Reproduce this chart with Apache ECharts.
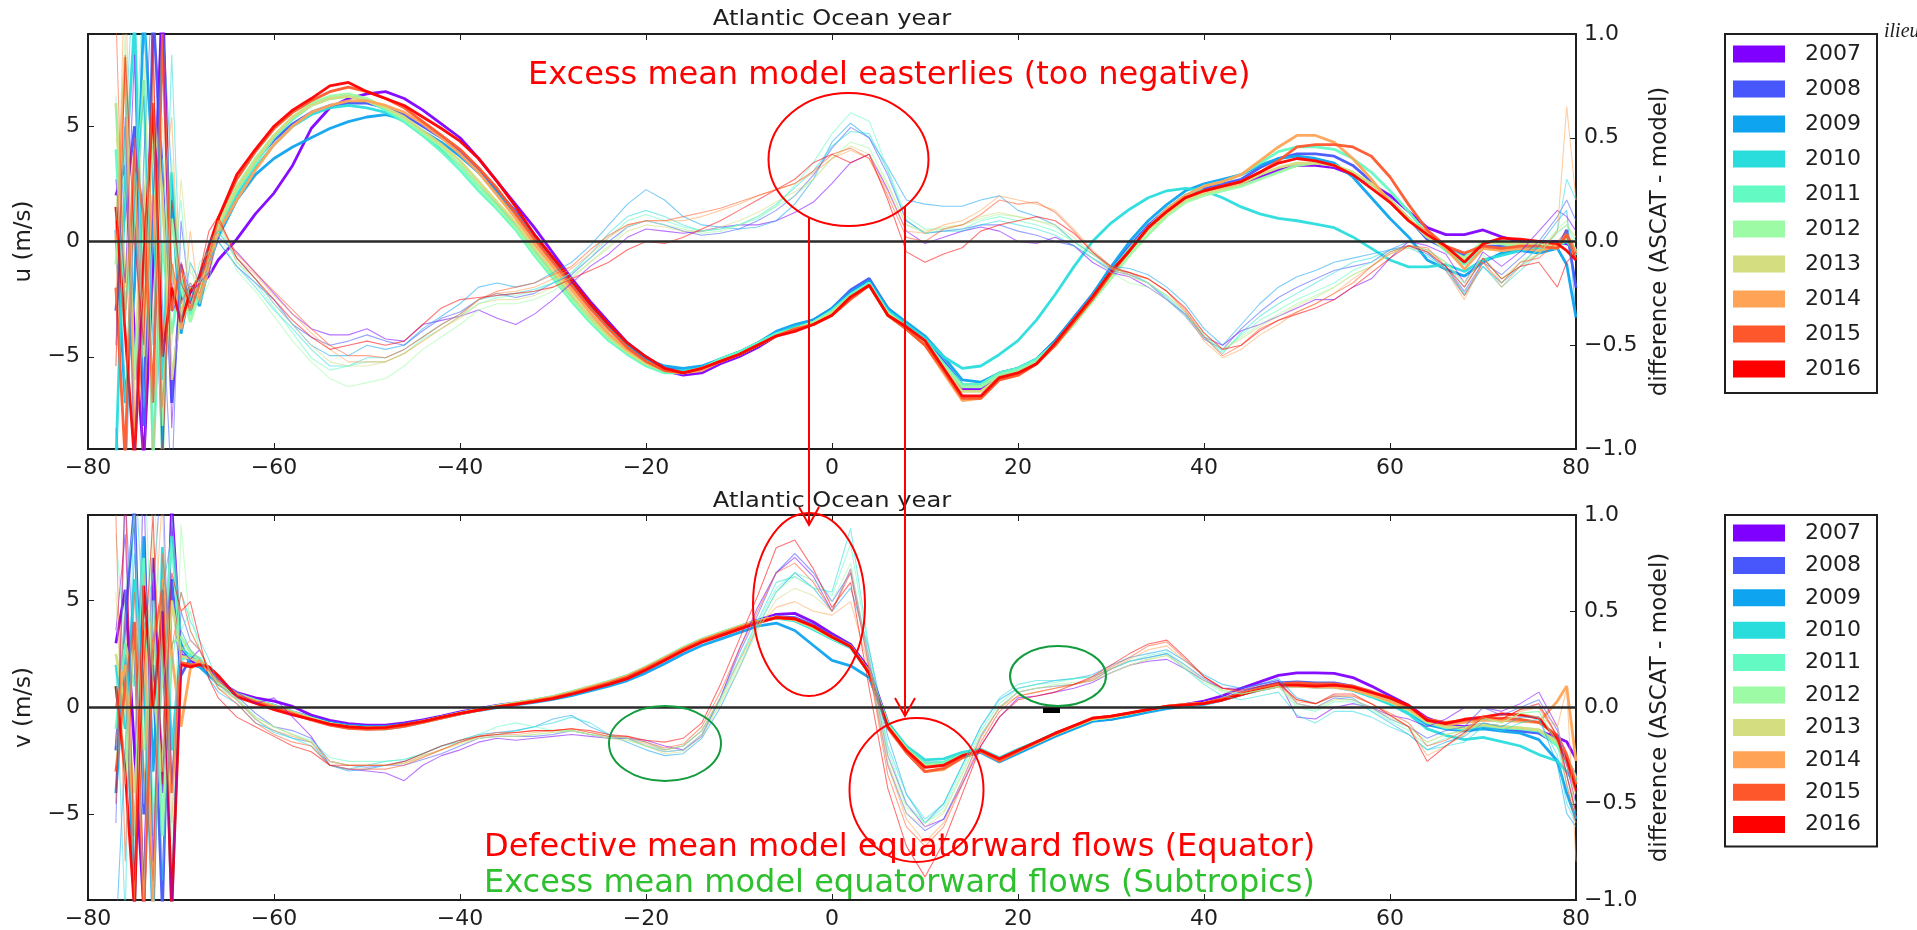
<!DOCTYPE html>
<html>
<head>
<meta charset="utf-8">
<script src="https://cdn.jsdelivr.net/npm/echarts@6/dist/echarts.min.js"></script>
<style>
html, body { margin: 0; padding: 0; background: #ffffff; }
#chart { width: 1917px; height: 930px; }
</style>
</head>
<body>
<div id="chart"></div>
<script>
// Atlantic Ocean yearly zonal (u) and meridional (v) wind profiles versus latitude,
// thick lines: mean wind (left axis, m/s); thin lines: ASCAT - model difference (right axis).

const years = ['2007', '2008', '2009', '2010', '2011', '2012', '2013', '2014', '2015', '2016'];
const yearColors = ['#8000ff', '#4757fb', '#0ea4f0', '#2adddd', '#63fbc3', '#9cfba4', '#d4dd80', '#ffa457', '#ff572c', '#ff0000'];

const latitudes = [
  -77, -76, -75, -74, -73, -72, -71, -70, -69, -68, -67, -66,
  -64, -62, -60, -58, -56, -54, -52, -50, -48, -46, -44, -42, -40, -38, -36, -34, -32, -30, -28, -26, -24, -22, -20, -18, -16, -14, -12, -10, -8, -6, -4, -2,
  0, 2, 4, 6, 8, 10, 12, 14, 16, 18, 20, 22, 24, 26, 28, 30, 32, 34, 36, 38, 40, 42, 44, 46, 48, 50, 52, 54, 56, 58, 60, 62,
  64, 66, 68, 70, 72, 74, 76, 78, 79, 80
];

const latTicks = [-80, -60, -40, -20, 0, 20, 40, 60, 80];
const windTicks = [-5, 0, 5];
const diffTicks = [-1, -0.5, 0, 0.5, 1];

// ---- zonal wind u (m/s) ----
const uWind2007 = [2.0, 3.3, -4.0, -9.5, -1.0, 11.0, -3.0, -2.5, -2.0, -1.9, -1.5, -0.8,
  0.1, 1.2, 2.1, 3.3, 4.9, 5.8, 6.2, 6.4, 6.5, 6.2, 5.7, 5.1, 4.5, 3.6, 2.6, 1.6, 0.6, -0.5, -1.6, -2.6, -3.5, -4.4, -5.1, -5.6, -5.8, -5.7, -5.3, -5.0, -4.6, -4.1, -3.8, -3.5,
  -3.0, -2.2, -1.7, -2.9, -3.6, -4.2, -5.3, -6.4, -6.4, -5.8, -5.6, -5.2, -4.4, -3.4, -2.4, -1.3, -0.3, 0.6, 1.3, 1.9, 2.2, 2.35, 2.5, 2.8, 3.1, 3.3, 3.3, 3.2, 2.9, 2.5, 2.0, 1.3,
  0.6, 0.3, 0.3, 0.5, 0.2, 0.0, 0.0, 0.0, -0.1, -0.3];
const uWind2008 = [-3.0, 1.5, 5.0, -8.0, 10.0, 3.0, -7.0, -2.0, -3.0, -2.5, -1.2, 0.5,
  2.3, 3.5, 4.4, 5.1, 5.6, 5.9, 6.0, 6.0, 5.8, 5.5, 5.0, 4.5, 3.9, 3.1, 2.2, 1.3, 0.3, -0.7, -1.7, -2.7, -3.6, -4.4, -5.0, -5.5, -5.6, -5.5, -5.1, -4.8, -4.4, -4.0, -3.7, -3.4,
  -2.9, -2.1, -1.6, -2.9, -3.6, -4.2, -5.2, -6.2, -6.2, -5.7, -5.5, -5.1, -4.3, -3.3, -2.3, -1.2, -0.2, 0.7, 1.4, 2.0, 2.3, 2.5, 2.7, 3.2, 3.6, 3.8, 3.8, 3.7, 3.3, 2.6, 1.8, 1.0,
  0.1, -0.3, -0.6, -0.2, -0.2, -0.3, -0.2, -0.3, 0.5, -2.0];
const uWind2009 = [0.5, -7.0, -2.0, 10.0, 3.0, -9.0, 2.0, -4.0, -2.0, -2.8, -1.0, 0.2,
  1.8, 2.9, 3.6, 4.1, 4.5, 4.9, 5.2, 5.4, 5.5, 5.3, 4.8, 4.3, 3.7, 3.0, 2.1, 1.2, 0.2, -0.8, -1.8, -2.8, -3.7, -4.5, -5.1, -5.4, -5.5, -5.4, -5.1, -4.8, -4.4, -3.9, -3.6, -3.4,
  -2.9, -2.2, -1.7, -2.9, -3.5, -4.1, -5.0, -6.0, -6.1, -5.7, -5.5, -5.1, -4.3, -3.3, -2.3, -1.1, 0.0, 0.9, 1.6, 2.2, 2.5, 2.7, 2.9, 3.3, 3.6, 3.7, 3.6, 3.4, 2.8, 1.9, 1.0, 0.2,
  -0.8, -1.2, -1.5, -0.9, -0.5, -0.4, -0.5, -0.3, -1.0, -3.3];
const uWind2010 = [-9.5, 2.7, 9.5, -4.0, 1.0, -6.0, 3.0, -3.5, -2.5, -2.0, -1.0, 0.4,
  2.0, 3.2, 4.2, 5.0, 5.5, 5.8, 5.9, 5.8, 5.6, 5.2, 4.6, 4.0, 3.3, 2.4, 1.6, 0.7, -0.4, -1.4, -2.4, -3.3, -4.1, -4.8, -5.3, -5.6, -5.6, -5.5, -5.1, -4.8, -4.4, -4.0, -3.7, -3.5,
  -3.0, -2.3, -1.8, -3.0, -3.6, -4.2, -5.0, -5.5, -5.4, -4.9, -4.3, -3.4, -2.3, -1.1, 0.0, 0.8, 1.4, 1.9, 2.2, 2.3, 2.2, 1.9, 1.5, 1.2, 1.0, 0.9, 0.75, 0.6, 0.2, -0.3, -0.8, -1.1,
  -1.1, -1.0, -1.3, -0.8, -0.6, -0.4, -0.3, -0.2, 0.0, -0.5];
const uWind2011 = [4.0, -3.0, 1.0, 7.0, -9.5, 0.0, -4.0, -1.5, -3.2, -2.0, -1.0, 0.6,
  2.2, 3.4, 4.5, 5.3, 5.9, 6.2, 6.3, 6.1, 5.7, 5.2, 4.6, 3.9, 3.1, 2.2, 1.4, 0.5, -0.6, -1.6, -2.6, -3.5, -4.3, -4.9, -5.4, -5.7, -5.7, -5.5, -5.1, -4.8, -4.4, -4.0, -3.8, -3.5,
  -3.0, -2.3, -1.8, -3.1, -3.7, -4.3, -5.3, -6.2, -6.2, -5.7, -5.5, -5.1, -4.4, -3.4, -2.4, -1.3, -0.3, 0.6, 1.4, 2.0, 2.4, 2.6, 2.9, 3.4, 3.9, 4.1, 4.1, 4.0, 3.6, 3.0, 2.2, 1.3,
  0.3, -0.4, -1.0, -0.3, -0.3, -0.2, -0.2, -0.3, 0.2, -0.6];
const uWind2012 = [-1.0, 5.0, -6.0, 2.0, 4.0, -8.0, 1.0, -2.0, -3.5, -2.2, -0.8, 0.8,
  2.4, 3.6, 4.6, 5.4, 6.0, 6.3, 6.4, 6.2, 5.8, 5.3, 4.7, 4.1, 3.3, 2.4, 1.5, 0.6, -0.5, -1.5, -2.5, -3.4, -4.2, -4.8, -5.3, -5.6, -5.7, -5.5, -5.2, -4.9, -4.5, -4.1, -3.8, -3.5,
  -3.1, -2.4, -1.9, -3.1, -3.7, -4.3, -5.4, -6.3, -6.3, -5.8, -5.6, -5.2, -4.5, -3.6, -2.6, -1.6, -0.6, 0.3, 1.1, 1.7, 2.0, 2.2, 2.4, 2.7, 3.0, 3.3, 3.4, 3.3, 3.0, 2.5, 1.8, 1.0,
  0.2, -0.3, -0.7, 0.0, -0.1, -0.2, -0.2, -0.3, 0.3, -0.4];
const uWind2013 = [6.0, -2.0, 3.0, -5.0, 6.0, 2.0, -6.0, -3.0, -2.0, -2.4, -1.0, 0.7,
  2.3, 3.5, 4.6, 5.4, 5.9, 6.2, 6.3, 6.1, 5.8, 5.4, 4.8, 4.2, 3.5, 2.6, 1.7, 0.8, -0.3, -1.3, -2.3, -3.3, -4.1, -4.8, -5.3, -5.6, -5.7, -5.5, -5.2, -4.9, -4.5, -4.1, -3.8, -3.6,
  -3.1, -2.4, -1.9, -3.2, -3.8, -4.4, -5.5, -6.5, -6.5, -5.9, -5.7, -5.3, -4.5, -3.5, -2.5, -1.4, -0.4, 0.5, 1.2, 1.8, 2.1, 2.3, 2.5, 2.9, 3.2, 3.4, 3.4, 3.3, 3.0, 2.5, 1.8, 1.0,
  0.2, -0.3, -0.8, -0.1, 0.0, -0.1, -0.1, -0.2, 0.2, -0.5];
const uWind2014 = [0.0, 8.0, -9.0, -3.0, 2.0, -5.0, -1.0, -3.8, -2.0, -2.5, -1.2, 0.4,
  1.8, 3.1, 4.2, 5.0, 5.6, 5.9, 6.1, 6.1, 5.9, 5.6, 5.1, 4.5, 3.8, 3.0, 2.0, 1.0, -0.1, -1.1, -2.1, -3.1, -4.0, -4.7, -5.2, -5.6, -5.7, -5.6, -5.2, -4.9, -4.5, -4.1, -3.8, -3.6,
  -3.2, -2.5, -1.9, -3.2, -3.8, -4.5, -5.7, -6.9, -6.8, -6.0, -5.8, -5.3, -4.5, -3.5, -2.5, -1.4, -0.4, 0.6, 1.4, 2.0, 2.4, 2.6, 2.9, 3.5, 4.1, 4.6, 4.6, 4.3, 3.6, 2.7, 1.7, 0.9,
  0.4, -0.3, -1.2, -0.3, -0.4, -0.3, -0.4, -0.2, 0.3, -0.5];
const uWind2015 = [-2.0, -9.5, 4.0, 1.0, -7.0, 9.0, -3.0, -1.0, -3.0, -1.8, -0.5, 1.0,
  2.7, 3.9, 4.9, 5.6, 6.1, 6.5, 6.7, 6.5, 6.2, 5.8, 5.2, 4.6, 4.0, 3.2, 2.3, 1.2, 0.1, -0.9, -1.9, -2.9, -3.8, -4.6, -5.2, -5.6, -5.7, -5.5, -5.2, -4.9, -4.5, -4.1, -3.8, -3.6,
  -3.2, -2.5, -1.9, -3.2, -3.8, -4.5, -5.6, -6.8, -6.8, -6.0, -5.8, -5.3, -4.5, -3.5, -2.5, -1.4, -0.4, 0.6, 1.3, 1.9, 2.2, 2.4, 2.6, 3.0, 3.5, 4.1, 4.2, 4.2, 4.1, 3.7, 2.8, 1.6,
  0.5, -0.2, -0.5, -0.2, -0.3, -0.2, -0.2, -0.3, 0.3, -0.8];
const uWind2016 = [1.5, -4.0, -9.5, -0.7, 6.0, -5.0, -2.0, -3.5, -2.2, -1.5, -0.2, 1.0,
  2.9, 4.0, 5.0, 5.7, 6.2, 6.75, 6.9, 6.5, 6.2, 5.9, 5.4, 4.9, 4.35, 3.6, 2.6, 1.5, 0.3, -0.7, -1.7, -2.7, -3.6, -4.4, -5.0, -5.5, -5.7, -5.5, -5.2, -4.9, -4.5, -4.1, -3.9, -3.6,
  -3.2, -2.4, -1.9, -3.2, -3.7, -4.3, -5.5, -6.7, -6.7, -5.9, -5.7, -5.3, -4.4, -3.4, -2.4, -1.3, -0.4, 0.6, 1.3, 1.9, 2.2, 2.4, 2.6, 3.0, 3.4, 3.6, 3.5, 3.3, 2.9, 2.3, 1.7, 0.9,
  0.3, -0.2, -0.9, -0.1, 0.15, 0.1, 0.0, -0.1, -0.4, -0.8];

// ---- zonal wind difference, ASCAT - model ----
const uDiff2007 = [0.3, -0.2, 0.9, -1.2, 0.2, 1.2, -0.9, -0.1, -0.25, -0.2, -0.15, 0.02,
  -0.05, -0.15, -0.25, -0.35, -0.42, -0.45, -0.45, -0.42, -0.47, -0.48, -0.40, -0.38, -0.36, -0.33, -0.37, -0.40, -0.35, -0.28, -0.20, -0.12, -0.06, 0.02, 0.06, 0.05, 0.04, 0.05, 0.07, 0.08, 0.08, 0.10, 0.14, 0.19,
  0.28, 0.38, 0.42, 0.25, 0.05, -0.01, 0.02, 0.05, 0.07, 0.05, 0.0, -0.01, 0.02, -0.02, -0.10, -0.15, -0.17, -0.22, -0.28, -0.35, -0.46, -0.50, -0.43, -0.40, -0.36, -0.32, -0.28, -0.28, -0.22, -0.18, -0.08, 0.0,
  -0.02, -0.06, -0.20, -0.05, -0.12, -0.05, 0.05, 0.15, 0.12, 0.05];
const uDiff2008 = [-0.5, 0.6, -1.1, 0.4, 1.3, -0.3, -1.2, 0.1, -0.3, -0.15, -0.1, 0.0,
  -0.12, -0.2, -0.28, -0.4, -0.46, -0.5, -0.48, -0.45, -0.48, -0.5, -0.43, -0.37, -0.34, -0.28, -0.25, -0.27, -0.25, -0.2, -0.16, -0.08, 0.0, 0.07, 0.1, 0.08, 0.05, 0.03, 0.04, 0.06, 0.1, 0.15, 0.22, 0.32,
  0.45, 0.55, 0.5, 0.32, 0.1, 0.04, 0.05, 0.06, 0.08, 0.08, 0.05, 0.03, 0.0, -0.02, -0.08, -0.14, -0.16, -0.2, -0.28, -0.36, -0.47, -0.52, -0.42, -0.34, -0.27, -0.22, -0.18, -0.14, -0.12, -0.1, -0.04, -0.02,
  -0.06, -0.12, -0.24, -0.1, -0.16, -0.08, 0.0, 0.12, 0.2, 0.1];
const uDiff2009 = [-0.9, -1.3, 0.2, 0.7, -0.5, 1.1, 0.3, -0.4, -0.1, -0.2, 0.0, 0.05,
  -0.08, -0.18, -0.3, -0.4, -0.5, -0.55, -0.55, -0.5, -0.52, -0.5, -0.42, -0.36, -0.3, -0.22, -0.2, -0.22, -0.2, -0.15, -0.1, -0.02, 0.08, 0.18, 0.25, 0.2, 0.12, 0.08, 0.07, 0.06, 0.07, 0.1, 0.18, 0.3,
  0.48, 0.57, 0.5, 0.36, 0.2, 0.18, 0.17, 0.17, 0.2, 0.22, 0.15, 0.12, 0.08, 0.0, -0.06, -0.12, -0.13, -0.16, -0.22, -0.3, -0.42, -0.5, -0.4, -0.3, -0.22, -0.17, -0.14, -0.1, -0.08, -0.06, -0.04, 0.0,
  -0.05, -0.14, -0.26, -0.12, -0.2, -0.12, -0.02, 0.1, 0.15, -0.35];
const uDiff2010 = [-1.2, 0.5, 1.4, -0.8, 0.0, -0.6, 0.9, -0.3, -0.2, -0.3, -0.1, 0.0,
  -0.12, -0.22, -0.33, -0.42, -0.52, -0.6, -0.6, -0.56, -0.56, -0.52, -0.46, -0.4, -0.35, -0.28, -0.26, -0.25, -0.23, -0.2, -0.15, -0.06, 0.04, 0.12, 0.15, 0.12, 0.08, 0.05, 0.06, 0.08, 0.12, 0.18, 0.26, 0.34,
  0.46, 0.53, 0.52, 0.34, 0.1, 0.04, 0.05, 0.05, 0.08, 0.1, 0.08, 0.06, 0.03, -0.02, -0.08, -0.13, -0.15, -0.2, -0.27, -0.35, -0.46, -0.54, -0.44, -0.36, -0.3, -0.25, -0.2, -0.15, -0.1, -0.08, -0.04, -0.03,
  -0.07, -0.13, -0.25, -0.12, -0.22, -0.14, -0.06, 0.05, 0.3, 0.2];
const uDiff2011 = [0.7, -0.8, 0.3, 1.3, -1.0, 0.4, -0.2, 0.2, -0.35, -0.1, -0.05, 0.08,
  -0.1, -0.2, -0.32, -0.44, -0.56, -0.62, -0.6, -0.58, -0.58, -0.54, -0.47, -0.42, -0.36, -0.3, -0.27, -0.26, -0.24, -0.2, -0.15, -0.08, 0.02, 0.1, 0.13, 0.1, 0.07, 0.05, 0.06, 0.08, 0.11, 0.17, 0.27, 0.38,
  0.52, 0.62, 0.58, 0.35, 0.12, 0.06, 0.06, 0.06, 0.1, 0.12, 0.1, 0.08, 0.05, 0.0, -0.06, -0.12, -0.16, -0.2, -0.26, -0.34, -0.45, -0.53, -0.45, -0.38, -0.33, -0.28, -0.24, -0.2, -0.14, -0.1, -0.05, -0.02,
  -0.04, -0.1, -0.22, -0.08, -0.18, -0.12, -0.06, 0.04, 0.08, 0.0];
const uDiff2012 = [0.1, 1.0, -0.6, -0.2, 0.8, -1.3, 0.4, -0.2, -0.1, -0.3, -0.2, 0.05,
  -0.14, -0.24, -0.36, -0.48, -0.58, -0.66, -0.7, -0.68, -0.66, -0.6, -0.52, -0.46, -0.4, -0.33, -0.3, -0.3, -0.28, -0.24, -0.17, -0.1, -0.02, 0.07, 0.1, 0.08, 0.06, 0.04, 0.05, 0.08, 0.12, 0.17, 0.22, 0.3,
  0.4, 0.48, 0.45, 0.28, 0.08, 0.04, 0.06, 0.08, 0.11, 0.13, 0.12, 0.1, 0.07, 0.0, -0.08, -0.15, -0.2, -0.22, -0.28, -0.36, -0.46, -0.52, -0.46, -0.4, -0.35, -0.3, -0.26, -0.22, -0.16, -0.12, -0.06, -0.02,
  -0.04, -0.1, -0.2, -0.06, -0.2, -0.1, -0.04, 0.06, 0.1, -0.05];
const uDiff2013 = [0.5, 0.2, -0.7, 0.9, -0.4, 0.6, -0.5, 0.3, -0.15, -0.2, -0.1, 0.1,
  -0.1, -0.18, -0.3, -0.4, -0.5, -0.58, -0.6, -0.6, -0.58, -0.54, -0.48, -0.42, -0.37, -0.3, -0.28, -0.28, -0.26, -0.22, -0.18, -0.1, -0.03, 0.05, 0.08, 0.07, 0.05, 0.05, 0.07, 0.1, 0.14, 0.19, 0.24, 0.3,
  0.4, 0.46, 0.42, 0.27, 0.08, 0.05, 0.07, 0.08, 0.12, 0.14, 0.12, 0.1, 0.08, 0.02, -0.06, -0.13, -0.17, -0.2, -0.26, -0.34, -0.44, -0.52, -0.47, -0.41, -0.36, -0.31, -0.27, -0.22, -0.16, -0.12, -0.06, -0.03,
  -0.05, -0.1, -0.2, -0.08, -0.18, -0.1, -0.06, 0.05, 0.08, 0.02];
const uDiff2014 = [-0.3, 1.4, -0.9, 0.3, -1.1, 0.2, 0.6, -0.4, 0.05, -0.3, -0.05, 0.1,
  -0.08, -0.16, -0.26, -0.35, -0.44, -0.52, -0.58, -0.58, -0.58, -0.54, -0.48, -0.42, -0.36, -0.28, -0.25, -0.24, -0.22, -0.18, -0.13, -0.06, 0.02, 0.08, 0.1, 0.1, 0.1, 0.12, 0.15, 0.18, 0.22, 0.25, 0.28, 0.33,
  0.4, 0.44, 0.4, 0.24, 0.05, 0.04, 0.08, 0.1, 0.15, 0.22, 0.2, 0.18, 0.15, 0.06, -0.04, -0.12, -0.16, -0.18, -0.24, -0.34, -0.48, -0.56, -0.52, -0.45, -0.4, -0.34, -0.3, -0.25, -0.18, -0.12, -0.06, -0.02,
  -0.04, -0.14, -0.28, -0.1, -0.22, -0.12, -0.06, 0.05, 0.65, 0.2];
const uDiff2015 = [1.1, -0.4, 0.5, -1.3, 0.9, -0.8, -0.1, -0.3, -0.2, -0.25, -0.1, 0.1,
  -0.06, -0.15, -0.24, -0.33, -0.42, -0.5, -0.55, -0.55, -0.56, -0.52, -0.46, -0.4, -0.35, -0.28, -0.24, -0.22, -0.2, -0.16, -0.12, -0.04, 0.03, 0.08, 0.1, 0.1, 0.12, 0.14, 0.16, 0.19, 0.22, 0.25, 0.28, 0.34,
  0.42, 0.45, 0.4, 0.22, 0.02, 0.0, 0.06, 0.08, 0.13, 0.2, 0.18, 0.19, 0.14, 0.05, -0.05, -0.13, -0.15, -0.18, -0.24, -0.33, -0.46, -0.55, -0.5, -0.42, -0.38, -0.34, -0.3, -0.25, -0.2, -0.12, -0.05, -0.02,
  -0.03, -0.12, -0.26, -0.1, -0.2, -0.1, -0.08, 0.0, 0.05, -0.05];
const uDiff2016 = [-0.6, 0.9, 0.0, -0.5, 1.0, -1.1, 0.2, -0.2, -0.3, -0.15, 0.05, 0.12,
  -0.08, -0.18, -0.28, -0.38, -0.46, -0.52, -0.5, -0.48, -0.5, -0.48, -0.4, -0.32, -0.28, -0.27, -0.26, -0.25, -0.24, -0.22, -0.18, -0.14, -0.1, -0.04, 0.0, -0.01, 0.02, 0.06, 0.1, 0.15, 0.2, 0.25, 0.3, 0.38,
  0.42, 0.38, 0.42, 0.2, -0.05, -0.1, -0.06, -0.03, 0.05, 0.08, 0.1, 0.12, 0.1, 0.04, -0.05, -0.12, -0.15, -0.18, -0.24, -0.32, -0.44, -0.52, -0.5, -0.43, -0.38, -0.35, -0.32, -0.28, -0.22, -0.15, -0.08, -0.02,
  -0.05, -0.12, -0.22, -0.08, -0.18, -0.12, -0.1, -0.22, -0.1, -0.05];

// ---- meridional wind v (m/s) ----
const vWind2007 = [3.0, 5.5, -2.0, -9.5, 7.0, -4.0, 9.5, 2.5, 2.2, 2.0, 1.6, 1.2,
  0.7, 0.45, 0.3, 0.05, -0.35, -0.6, -0.75, -0.82, -0.82, -0.72, -0.58, -0.4, -0.2, -0.05, 0.1, 0.22, 0.35, 0.5, 0.72, 0.95, 1.2, 1.48, 1.88, 2.32, 2.78, 3.18, 3.48, 3.78, 4.08, 4.35, 4.4, 4.0,
  3.45, 2.95, 1.8, -0.7, -1.9, -2.6, -2.6, -2.2, -2.0, -2.5, -2.1, -1.7, -1.3, -0.95, -0.6, -0.5, -0.3, -0.12, 0.05, 0.15, 0.3, 0.55, 0.9, 1.2, 1.5, 1.62, 1.62, 1.6, 1.4, 1.0, 0.55, 0.1,
  -0.5, -0.8, -0.9, -0.8, -0.9, -1.0, -1.1, -1.4, -1.6, -2.4];
const vWind2008 = [-2.0, 4.0, 9.5, -5.0, 2.0, -9.5, 6.0, 1.5, 2.3, 2.1, 1.8, 1.3,
  0.6, 0.35, 0.1, -0.2, -0.45, -0.68, -0.82, -0.88, -0.88, -0.77, -0.62, -0.44, -0.26, -0.1, 0.05, 0.18, 0.3, 0.45, 0.66, 0.9, 1.12, 1.4, 1.8, 2.25, 2.7, 3.1, 3.4, 3.7, 4.0, 4.25, 4.2, 3.85,
  3.35, 2.9, 1.7, -0.8, -1.95, -2.7, -2.65, -2.25, -2.05, -2.5, -2.1, -1.7, -1.3, -0.95, -0.6, -0.55, -0.35, -0.15, 0.0, 0.1, 0.2, 0.4, 0.7, 0.95, 1.15, 1.2, 1.15, 1.15, 1.0, 0.7, 0.4, 0.0,
  -0.6, -0.9, -1.0, -0.9, -1.0, -1.1, -1.2, -1.7, -2.4, -3.2];
const vWind2009 = [-4.0, 2.5, -9.5, 8.0, -3.0, 5.0, -9.5, 3.0, 2.0, 1.9, 1.5, 1.1,
  0.55, 0.3, 0.05, -0.25, -0.5, -0.72, -0.85, -0.9, -0.9, -0.8, -0.65, -0.47, -0.3, -0.14, 0.0, 0.12, 0.24, 0.38, 0.56, 0.78, 1.0, 1.26, 1.62, 2.05, 2.5, 2.9, 3.2, 3.5, 3.8, 3.95, 3.6, 2.9,
  2.2, 1.95, 1.4, -0.9, -2.0, -2.75, -2.65, -2.3, -2.1, -2.55, -2.15, -1.75, -1.35, -1.0, -0.65, -0.55, -0.4, -0.22, -0.05, 0.05, 0.15, 0.35, 0.6, 0.82, 1.0, 1.05, 1.0, 1.0, 0.85, 0.55, 0.2, -0.2,
  -0.8, -1.0, -1.1, -1.0, -1.1, -1.2, -1.5, -2.5, -4.0, -5.2];
const vWind2010 = [2.0, -1.0, 6.0, 1.0, -9.5, 7.5, -2.0, 2.8, 2.4, 2.2, 1.7, 1.2,
  0.6, 0.3, 0.05, -0.25, -0.55, -0.8, -0.95, -1.0, -1.0, -0.88, -0.7, -0.5, -0.3, -0.12, 0.03, 0.17, 0.3, 0.45, 0.66, 0.9, 1.15, 1.42, 1.82, 2.26, 2.72, 3.12, 3.42, 3.72, 4.0, 4.18, 4.05, 3.65,
  3.2, 2.8, 1.6, -0.7, -1.8, -2.45, -2.4, -2.1, -1.95, -2.35, -1.95, -1.6, -1.2, -0.9, -0.55, -0.45, -0.3, -0.12, 0.02, 0.1, 0.18, 0.35, 0.6, 0.82, 1.0, 1.0, 0.95, 0.95, 0.8, 0.5, 0.15, -0.3,
  -1.0, -1.3, -1.5, -1.4, -1.6, -1.8, -2.2, -2.5, -3.0, -3.6];
const vWind2011 = [-1.0, 3.0, 1.0, 7.0, -6.0, 2.0, 8.0, 2.2, 2.5, 2.3, 1.8, 1.3,
  0.65, 0.35, 0.1, -0.2, -0.5, -0.75, -0.9, -0.95, -0.95, -0.82, -0.65, -0.45, -0.25, -0.08, 0.08, 0.22, 0.36, 0.52, 0.74, 0.98, 1.22, 1.5, 1.9, 2.35, 2.8, 3.2, 3.5, 3.8, 4.05, 4.2, 4.1, 3.7,
  3.25, 2.85, 1.65, -0.8, -1.9, -2.6, -2.55, -2.2, -2.0, -2.4, -2.0, -1.6, -1.2, -0.88, -0.55, -0.45, -0.28, -0.1, 0.04, 0.12, 0.2, 0.38, 0.62, 0.85, 1.02, 1.05, 1.0, 1.0, 0.85, 0.55, 0.25, -0.15,
  -0.7, -0.95, -1.0, -0.85, -0.95, -1.0, -1.1, -1.8, -2.6, -3.4];
const vWind2012 = [1.0, -3.0, 4.0, -2.0, 5.0, -6.0, 3.0, 3.3, 2.6, 2.2, 1.7, 1.2,
  0.6, 0.32, 0.08, -0.22, -0.5, -0.76, -0.9, -0.95, -0.94, -0.82, -0.65, -0.46, -0.27, -0.1, 0.06, 0.2, 0.34, 0.5, 0.72, 0.96, 1.2, 1.48, 1.88, 2.32, 2.78, 3.18, 3.48, 3.78, 4.04, 4.22, 4.1, 3.72,
  3.25, 2.85, 1.65, -0.85, -1.95, -2.7, -2.65, -2.25, -2.0, -2.45, -2.05, -1.65, -1.25, -0.9, -0.55, -0.45, -0.28, -0.1, 0.05, 0.13, 0.2, 0.38, 0.62, 0.85, 1.02, 1.05, 1.0, 1.0, 0.88, 0.6, 0.3, -0.1,
  -0.65, -0.9, -0.95, -0.8, -0.9, -0.95, -1.05, -1.7, -2.5, -3.5];
const vWind2013 = [2.5, 0.0, -4.0, 3.0, 1.0, -3.0, 5.0, 2.4, 2.3, 2.1, 1.7, 1.2,
  0.55, 0.3, 0.05, -0.25, -0.52, -0.76, -0.9, -0.95, -0.93, -0.82, -0.65, -0.46, -0.27, -0.1, 0.06, 0.2, 0.34, 0.5, 0.72, 0.96, 1.2, 1.48, 1.88, 2.32, 2.78, 3.18, 3.48, 3.78, 4.04, 4.22, 4.12, 3.75,
  3.28, 2.86, 1.66, -0.85, -1.95, -2.75, -2.7, -2.25, -2.0, -2.45, -2.05, -1.65, -1.25, -0.9, -0.55, -0.45, -0.28, -0.1, 0.05, 0.13, 0.2, 0.38, 0.62, 0.85, 1.0, 1.02, 0.98, 0.98, 0.85, 0.58, 0.28, -0.12,
  -0.68, -0.9, -0.95, -0.8, -0.9, -0.95, -1.05, -1.6, -2.3, -3.3];
const vWind2014 = [0.0, 2.0, -6.0, 4.0, -9.5, 6.0, 2.5, -0.9, 1.8, 2.2, 1.8, 1.3,
  0.6, 0.3, 0.05, -0.25, -0.55, -0.8, -0.95, -1.0, -0.97, -0.85, -0.68, -0.48, -0.28, -0.1, 0.05, 0.18, 0.32, 0.48, 0.7, 0.94, 1.18, 1.46, 1.86, 2.3, 2.75, 3.15, 3.45, 3.75, 4.02, 4.2, 4.12, 3.78,
  3.3, 2.85, 1.6, -0.95, -2.1, -3.0, -2.9, -2.35, -2.05, -2.5, -2.05, -1.65, -1.25, -0.88, -0.52, -0.42, -0.26, -0.08, 0.06, 0.14, 0.2, 0.38, 0.62, 0.85, 1.0, 1.0, 0.95, 0.95, 0.82, 0.6, 0.3, -0.05,
  -0.6, -0.8, -0.7, -0.6, -0.6, -0.65, -0.7, 0.3, 1.0, -2.5];
const vWind2015 = [-3.0, 1.0, 4.0, -9.5, 3.0, 5.5, -4.0, 2.1, 2.0, 2.0, 1.8, 1.4,
  0.55, 0.25, -0.02, -0.3, -0.58, -0.82, -0.97, -1.02, -1.0, -0.88, -0.7, -0.5, -0.3, -0.12, 0.03, 0.16, 0.3, 0.45, 0.66, 0.9, 1.14, 1.42, 1.82, 2.26, 2.72, 3.12, 3.42, 3.72, 4.0, 4.22, 4.15, 3.8,
  3.3, 2.85, 1.6, -0.95, -2.1, -3.0, -2.85, -2.35, -2.05, -2.5, -2.05, -1.62, -1.22, -0.86, -0.5, -0.42, -0.26, -0.1, 0.05, 0.13, 0.2, 0.4, 0.65, 0.9, 1.1, 1.15, 1.1, 1.1, 1.0, 0.75, 0.45, 0.05,
  -0.55, -0.7, -0.6, -0.5, -0.5, -0.55, -0.7, -1.3, -2.2, -3.6];
const vWind2016 = [1.0, -3.0, -9.5, 5.7, 0.0, 4.5, -9.5, 2.0, 1.9, 2.0, 1.9, 1.5,
  0.5, 0.2, -0.1, -0.35, -0.55, -0.78, -0.9, -0.95, -0.93, -0.8, -0.65, -0.45, -0.28, -0.12, 0.03, 0.15, 0.27, 0.42, 0.62, 0.85, 1.08, 1.35, 1.75, 2.2, 2.65, 3.05, 3.35, 3.65, 3.95, 4.2, 4.15, 3.8,
  3.3, 2.85, 1.6, -0.9, -2.0, -2.8, -2.7, -2.25, -2.0, -2.4, -2.0, -1.6, -1.2, -0.85, -0.5, -0.4, -0.25, -0.1, 0.05, 0.12, 0.18, 0.35, 0.6, 0.85, 1.05, 1.05, 1.0, 1.05, 0.95, 0.7, 0.45, 0.1,
  -0.6, -0.75, -0.55, -0.45, -0.3, -0.35, -0.5, -1.5, -2.5, -3.9];

// ---- meridional wind difference, ASCAT - model ----
const vDiff2007 = [0.4, 0.9, -0.3, 1.2, -0.8, 0.5, -1.1, 0.3, 0.25, 0.3, 0.2, 0.15,
  0.08, 0.02, 0.05, -0.05, -0.15, -0.3, -0.32, -0.33, -0.34, -0.38, -0.3, -0.25, -0.22, -0.18, -0.16, -0.17, -0.16, -0.15, -0.14, -0.15, -0.16, -0.16, -0.17, -0.2, -0.22, -0.15, 0.05, 0.3, 0.52, 0.7, 0.78, 0.68,
  0.5, 0.72, 0.25, -0.25, -0.5, -0.62, -0.58, -0.4, -0.2, -0.05, 0.05, 0.06, 0.08, 0.1, 0.13, 0.18, 0.22, 0.24, 0.25, 0.2, 0.14, 0.1, 0.1, 0.12, 0.14, -0.05, -0.06, 0.0, 0.02, 0.0, -0.04, -0.06,
  -0.1, -0.06, 0.0, 0.0, -0.02, 0.02, 0.08, -0.1, -0.3, -0.5];
const vDiff2008 = [-0.6, 1.1, 0.2, -0.9, 0.6, 1.3, -0.4, 0.5, 0.35, 0.3, 0.2, 0.14,
  0.06, -0.03, -0.1, -0.12, -0.16, -0.28, -0.3, -0.31, -0.3, -0.3, -0.27, -0.24, -0.2, -0.16, -0.15, -0.15, -0.15, -0.14, -0.12, -0.14, -0.16, -0.16, -0.2, -0.23, -0.22, -0.14, 0.05, 0.28, 0.48, 0.7, 0.8, 0.7,
  0.55, 0.7, 0.22, -0.3, -0.55, -0.64, -0.58, -0.38, -0.15, 0.0, 0.08, 0.1, 0.11, 0.12, 0.14, 0.2, 0.24, 0.26, 0.28, 0.22, 0.15, 0.1, 0.09, 0.12, 0.14, 0.02, 0.0, 0.05, 0.04, 0.0, -0.06, -0.1,
  -0.16, -0.12, -0.1, 0.0, -0.04, 0.0, 0.04, -0.12, -0.35, -0.55];
const vDiff2009 = [-1.2, -0.2, 0.8, 0.1, -1.3, 0.6, 0.9, 0.4, 0.3, 0.25, 0.15, 0.08,
  0.02, -0.08, -0.12, -0.16, -0.18, -0.3, -0.33, -0.32, -0.3, -0.28, -0.24, -0.2, -0.17, -0.14, -0.13, -0.12, -0.1, -0.06, -0.04, -0.1, -0.14, -0.18, -0.22, -0.25, -0.24, -0.16, 0.0, 0.2, 0.42, 0.6, 0.7, 0.62,
  0.5, 0.62, 0.3, -0.15, -0.45, -0.6, -0.5, -0.3, -0.1, 0.04, 0.1, 0.12, 0.14, 0.15, 0.17, 0.22, 0.26, 0.28, 0.3, 0.24, 0.17, 0.12, 0.1, 0.12, 0.15, 0.05, 0.02, 0.06, 0.05, -0.02, -0.08, -0.14,
  -0.22, -0.18, -0.15, -0.08, -0.1, -0.05, -0.05, -0.3, -0.55, -0.62];
const vDiff2010 = [0.2, -1.1, 1.3, 0.4, 0.7, -0.9, 0.2, 0.6, 0.45, 0.35, 0.25, 0.12,
  0.04, -0.06, -0.13, -0.16, -0.2, -0.3, -0.32, -0.3, -0.28, -0.27, -0.24, -0.2, -0.18, -0.15, -0.14, -0.12, -0.1, -0.08, -0.05, -0.08, -0.14, -0.16, -0.18, -0.22, -0.2, -0.12, 0.05, 0.25, 0.45, 0.65, 0.68, 0.62,
  0.6, 0.93, 0.3, -0.2, -0.45, -0.58, -0.5, -0.3, -0.1, 0.05, 0.12, 0.14, 0.14, 0.15, 0.16, 0.2, 0.24, 0.26, 0.28, 0.2, 0.12, 0.06, 0.04, 0.06, 0.08, -0.04, -0.08, -0.02, -0.02, -0.05, -0.1, -0.14,
  -0.22, -0.2, -0.18, -0.1, -0.12, -0.08, -0.06, -0.25, -0.5, -0.6];
const vDiff2011 = [0.9, 0.3, -0.7, 1.4, 0.1, -0.5, 1.0, 0.4, 0.5, 0.3, 0.2, 0.1,
  0.05, -0.05, -0.1, -0.14, -0.17, -0.26, -0.28, -0.28, -0.28, -0.27, -0.24, -0.2, -0.17, -0.14, -0.1, -0.08, -0.1, -0.12, -0.12, -0.14, -0.15, -0.16, -0.2, -0.22, -0.2, -0.12, 0.04, 0.24, 0.44, 0.62, 0.7, 0.66,
  0.58, 0.85, 0.28, -0.22, -0.5, -0.6, -0.52, -0.32, -0.12, 0.02, 0.1, 0.12, 0.13, 0.15, 0.16, 0.2, 0.24, 0.27, 0.29, 0.22, 0.14, 0.09, 0.07, 0.09, 0.11, 0.0, -0.02, 0.03, 0.03, -0.02, -0.07, -0.12,
  -0.2, -0.16, -0.14, -0.06, -0.08, -0.03, -0.02, -0.2, -0.4, -0.55];
const vDiff2012 = [-0.3, 0.6, 1.0, -0.5, 1.2, 0.3, -0.7, 0.95, 0.4, 0.3, 0.2, 0.12,
  0.05, -0.05, -0.1, -0.14, -0.18, -0.28, -0.3, -0.3, -0.3, -0.29, -0.25, -0.22, -0.18, -0.16, -0.15, -0.15, -0.14, -0.13, -0.12, -0.14, -0.16, -0.17, -0.2, -0.23, -0.22, -0.14, 0.03, 0.22, 0.42, 0.6, 0.68, 0.62,
  0.55, 0.75, 0.25, -0.25, -0.52, -0.6, -0.54, -0.34, -0.14, 0.0, 0.08, 0.1, 0.12, 0.13, 0.14, 0.18, 0.22, 0.25, 0.27, 0.2, 0.13, 0.08, 0.07, 0.09, 0.11, 0.01, -0.01, 0.04, 0.04, -0.01, -0.06, -0.1,
  -0.18, -0.14, -0.12, -0.05, -0.08, -0.03, -0.02, -0.18, -0.35, -0.5];
const vDiff2013 = [0.6, -0.4, 0.3, -1.0, 0.9, 0.1, 0.5, 0.3, 0.3, 0.25, 0.18, 0.1,
  0.04, -0.05, -0.1, -0.14, -0.18, -0.28, -0.3, -0.3, -0.3, -0.29, -0.26, -0.22, -0.19, -0.16, -0.15, -0.15, -0.14, -0.13, -0.12, -0.14, -0.16, -0.17, -0.2, -0.24, -0.23, -0.15, 0.02, 0.2, 0.4, 0.56, 0.62, 0.58,
  0.5, 0.72, 0.22, -0.28, -0.55, -0.62, -0.55, -0.35, -0.14, 0.0, 0.08, 0.1, 0.11, 0.12, 0.14, 0.18, 0.22, 0.25, 0.27, 0.21, 0.14, 0.09, 0.07, 0.09, 0.11, 0.02, 0.0, 0.04, 0.04, 0.0, -0.05, -0.1,
  -0.18, -0.14, -0.12, -0.05, -0.08, -0.03, -0.05, -0.1, -0.3, -0.45];
const vDiff2014 = [-0.2, 0.5, -1.0, 0.7, 0.3, 1.1, -0.6, 0.3, 0.35, 0.3, 0.2, 0.12,
  0.04, -0.06, -0.12, -0.15, -0.18, -0.28, -0.3, -0.3, -0.3, -0.29, -0.25, -0.22, -0.18, -0.15, -0.14, -0.14, -0.13, -0.12, -0.11, -0.13, -0.15, -0.16, -0.19, -0.22, -0.2, -0.12, 0.05, 0.24, 0.42, 0.52, 0.55, 0.5,
  0.48, 0.55, 0.2, -0.3, -0.58, -0.7, -0.6, -0.38, -0.16, 0.0, 0.06, 0.08, 0.1, 0.12, 0.14, 0.2, 0.25, 0.3, 0.32, 0.24, 0.16, 0.1, 0.08, 0.1, 0.12, 0.03, 0.02, 0.06, 0.06, 0.02, -0.04, -0.1,
  -0.25, -0.2, -0.14, -0.05, -0.07, -0.02, 0.0, -0.1, 0.1, -0.8];
const vDiff2015 = [1.0, -0.8, 0.6, -0.3, -0.9, 0.8, 0.3, 0.6, 0.4, 0.3, 0.2, 0.1,
  0.02, -0.08, -0.14, -0.18, -0.2, -0.3, -0.32, -0.32, -0.32, -0.3, -0.26, -0.22, -0.18, -0.15, -0.13, -0.13, -0.12, -0.12, -0.11, -0.13, -0.15, -0.15, -0.18, -0.21, -0.19, -0.1, 0.08, 0.3, 0.5, 0.7, 0.75, 0.65,
  0.5, 0.7, 0.2, -0.35, -0.62, -0.72, -0.62, -0.4, -0.18, -0.02, 0.06, 0.08, 0.1, 0.12, 0.15, 0.21, 0.26, 0.32, 0.34, 0.25, 0.16, 0.1, 0.08, 0.1, 0.12, 0.04, 0.02, 0.06, 0.06, 0.02, -0.03, -0.08,
  -0.2, -0.17, -0.12, -0.04, -0.06, -0.01, 0.0, -0.15, -0.4, -0.6];
const vDiff2016 = [-0.5, 1.2, -0.9, 0.2, 1.0, -0.4, 0.7, 0.5, 0.55, 0.35, 0.15, 0.05,
  -0.05, -0.1, -0.15, -0.2, -0.23, -0.3, -0.3, -0.3, -0.3, -0.28, -0.24, -0.2, -0.17, -0.15, -0.14, -0.13, -0.12, -0.12, -0.11, -0.12, -0.14, -0.15, -0.17, -0.18, -0.16, -0.08, 0.12, 0.35, 0.58, 0.83, 0.87, 0.72,
  0.52, 0.65, 0.1, -0.42, -0.72, -0.88, -0.7, -0.45, -0.2, -0.05, 0.04, 0.06, 0.08, 0.12, 0.16, 0.22, 0.28, 0.33, 0.35, 0.26, 0.16, 0.1, 0.09, 0.11, 0.13, 0.04, 0.02, 0.07, 0.07, 0.02, -0.04, -0.1,
  -0.28, -0.2, -0.13, -0.05, -0.06, -0.01, 0.02, -0.15, -0.35, -0.55];

const uWind = [uWind2007, uWind2008, uWind2009, uWind2010, uWind2011, uWind2012, uWind2013, uWind2014, uWind2015, uWind2016];
const uDiff = [uDiff2007, uDiff2008, uDiff2009, uDiff2010, uDiff2011, uDiff2012, uDiff2013, uDiff2014, uDiff2015, uDiff2016];
const vWind = [vWind2007, vWind2008, vWind2009, vWind2010, vWind2011, vWind2012, vWind2013, vWind2014, vWind2015, vWind2016];
const vDiff = [vDiff2007, vDiff2008, vDiff2009, vDiff2010, vDiff2011, vDiff2012, vDiff2013, vDiff2014, vDiff2015, vDiff2016];

const INK = '#1e1e1e';
const FONT = 'DejaVu Sans';
const minus = s => String(s).replace('-', '\u2212');

function pairs(values) {
  return latitudes.map((lat, i) => [lat, values[i]]);
}

const zeroLine = {
  silent: true, symbol: 'none', label: { show: false },
  lineStyle: { color: '#2a2a2a', width: 2.5, type: 'solid', opacity: 1 },
  emphasis: { disabled: true },
  data: [{ yAxis: 0 }]
};

const series = [];
[[uWind, uDiff, 0], [vWind, vDiff, 1]].forEach(([mean, diff, g]) => {
  years.forEach((y, i) => {
    const s = {
      name: y, type: 'line', xAxisIndex: g * 2, yAxisIndex: g * 2,
      data: pairs(mean[i]), showSymbol: false, symbol: 'none', clip: true,
      color: yearColors[i],
      lineStyle: { width: 2.8, color: yearColors[i], opacity: 0.95 },
      emphasis: { disabled: true }, z: 3
    };
    if (i === 0) s.markLine = zeroLine;
    series.push(s);
  });
  years.forEach((y, i) => {
    series.push({
      name: y, type: 'line', xAxisIndex: g * 2, yAxisIndex: g * 2 + 1,
      data: pairs(diff[i]), showSymbol: false, symbol: 'none', clip: true,
      color: yearColors[i],
      lineStyle: { width: 1.1, color: yearColors[i], opacity: 0.55 },
      emphasis: { disabled: true }, z: 4
    });
  });
});

const gridRects = [
  { left: 88, top: 34, width: 1488, height: 415 },
  { left: 88, top: 515, width: 1488, height: 385 }
];

const tickStyle = { inside: true, length: 6, lineStyle: { color: INK, width: 1 } };
const labelStyle = { fontSize: 22, color: INK, fontFamily: FONT };
const hiddenLine = { show: false, onZero: false };

const xAxis = [];
const yAxis = [];
gridRects.forEach((r, g) => {
  xAxis.push({
    gridIndex: g, type: 'value', min: latTicks[0], max: latTicks[latTicks.length - 1], interval: 20,
    position: 'bottom', axisLine: hiddenLine, axisTick: tickStyle,
    axisLabel: Object.assign({ margin: 8, formatter: v => minus(v) }, labelStyle),
    splitLine: { show: false }
  });
  xAxis.push({
    gridIndex: g, type: 'value', min: latTicks[0], max: latTicks[latTicks.length - 1], interval: 20,
    position: 'top', axisLine: hiddenLine, axisTick: tickStyle,
    axisLabel: { show: false }, splitLine: { show: false }
  });
  yAxis.push({
    gridIndex: g, type: 'value', min: -9, max: 9, position: 'left',
    name: g === 0 ? 'u (m/s)' : 'v (m/s)', nameLocation: 'middle', nameGap: 52,
    nameTextStyle: { fontSize: 23, color: INK, fontFamily: FONT },
    axisLine: hiddenLine,
    axisTick: Object.assign({ customValues: windTicks }, tickStyle),
    axisLabel: Object.assign({ customValues: windTicks, margin: 8, formatter: v => minus(v) }, labelStyle),
    splitLine: { show: false }
  });
  yAxis.push({
    gridIndex: g, type: 'value', min: diffTicks[0], max: diffTicks[diffTicks.length - 1], interval: 0.5, position: 'right',
    name: 'difference (ASCAT - model)', nameLocation: 'middle', nameGap: 72,
    nameTextStyle: { fontSize: 23, color: INK, fontFamily: FONT },
    axisLine: hiddenLine, axisTick: tickStyle,
    axisLabel: Object.assign({ margin: 8, formatter: v => minus(v.toFixed(1)) }, labelStyle),
    splitLine: { show: false }
  });
});

const legendBase = {
  data: years, orient: 'vertical', left: 1725, icon: 'rect',
  itemWidth: 52, itemHeight: 17, selectedMode: false,
  borderColor: INK, borderWidth: 2, borderRadius: 0, backgroundColor: '#ffffff',
  textStyle: { fontSize: 22, color: INK, fontFamily: FONT, lineHeight: 22, padding: [0, 0, 0, 15] }
};

const RED = '#ff0000';
const GREEN = '#129c3e';
const outline = (cx, cy, rx, ry, color) => ({
  type: 'ellipse', z: 100, silent: true,
  shape: { cx, cy, rx, ry },
  style: { fill: 'none', stroke: color, lineWidth: 2 }
});
const note = (text, x, y, color) => ({
  type: 'text', z: 101, silent: true, x, y,
  style: { text, fill: color, fontSize: 32, fontFamily: FONT, align: 'left', verticalAlign: 'middle' }
});

const graphic = [
  { type: 'text', z: 50, silent: true, x: 832, y: 20, scaleX: 1.15,
    style: { text: 'Atlantic Ocean year', fill: INK, fontSize: 21, fontFamily: FONT, align: 'center', verticalAlign: 'middle' } },
  { type: 'text', z: 50, silent: true, x: 832, y: 502, scaleX: 1.15,
    style: { text: 'Atlantic Ocean year', fill: INK, fontSize: 21, fontFamily: FONT, align: 'center', verticalAlign: 'middle' } },
  { type: 'text', z: 50, silent: true, x: 1884, y: 32,
    style: { text: 'ilieu', fill: INK, fontSize: 20, fontStyle: 'italic', fontFamily: 'Liberation Serif', align: 'left', verticalAlign: 'middle' } },
  note('Excess mean model easterlies (too negative)', 528, 76, RED),
  note('Defective mean model equatorward flows (Equator)', 484, 848, RED),
  note('Excess mean model equatorward flows (Subtropics)', 484, 884, '#2ec02e'),
  outline(848.5, 159.5, 80, 66.5, RED),
  outline(809, 604.5, 56, 91.5, RED),
  outline(916.5, 790, 67, 72, RED),
  outline(665, 743.5, 56, 37.5, GREEN),
  outline(1058, 676, 48, 30, GREEN),
  { type: 'line', z: 100, silent: true, shape: { x1: 809, y1: 218, x2: 809, y2: 525 }, style: { stroke: RED, lineWidth: 2 } },
  { type: 'polyline', z: 100, silent: true, shape: { points: [[799, 507], [809, 525], [819, 507]] }, style: { stroke: RED, lineWidth: 2, fill: 'none' } },
  { type: 'line', z: 100, silent: true, shape: { x1: 905, y1: 206, x2: 905, y2: 716 }, style: { stroke: RED, lineWidth: 2 } },
  { type: 'polyline', z: 100, silent: true, shape: { points: [[895, 698], [905, 716], [915, 698]] }, style: { stroke: RED, lineWidth: 2, fill: 'none' } },
  { type: 'rect', z: 100, silent: true, shape: { x: 1043, y: 708, width: 17, height: 5 }, style: { fill: '#000000' } }
];

const chart = echarts.init(document.getElementById('chart'), null, { renderer: 'canvas' });
chart.setOption({
  backgroundColor: '#ffffff',
  animation: false,
  textStyle: { fontFamily: FONT },
  grid: gridRects.map(r => Object.assign({ show: true, borderColor: INK, borderWidth: 2, backgroundColor: 'transparent', containLabel: false }, r)),
  legend: [
    Object.assign({}, legendBase, { top: 34, itemGap: 13, padding: [9, 16, 13, 8] }),
    Object.assign({}, legendBase, { top: 515, itemGap: 10.4, padding: [7, 16, 11, 8] })
  ],
  xAxis, yAxis, series, graphic
});
</script>
</body>
</html>
